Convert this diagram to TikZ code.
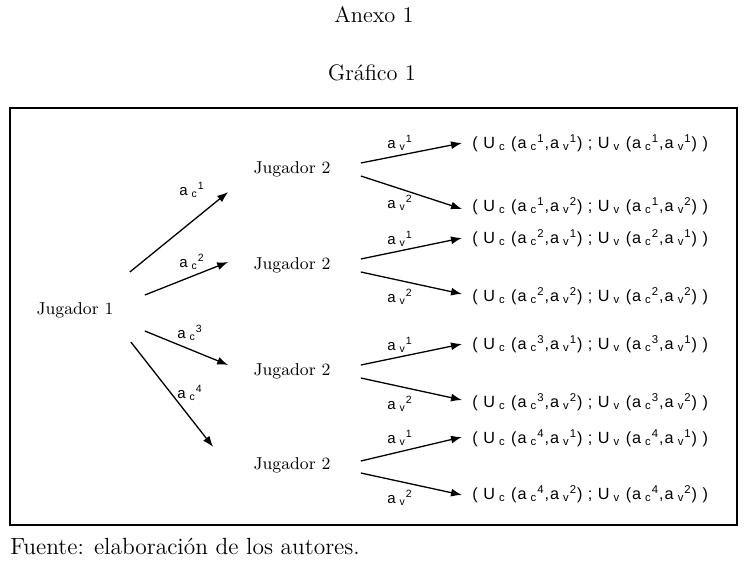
\documentclass[tikz,border=0pt]{standalone}
\usepackage{fontspec}
\newfontfamily\arialfont[LetterSpace=6]{Liberation Sans}
\usetikzlibrary{arrows.meta}

\newcommand{\act}[2]{a\hspace{0.25em}\textsubscript{#1}\textsuperscript{#2}}
\newcommand{\pago}[2]{( U\hspace{0.25em}\textsubscript{c} (\act{c}{#1},\act{v}{#2}) ; U\hspace{0.25em}\textsubscript{v} (\act{c}{#1},\act{v}{#2}) )}

\begin{document}
\begin{tikzpicture}[x=0.5pt,y=-0.5pt,
  flecha/.style={-{Latex[length=5.5pt,width=4pt]}, line width=0.65pt},
  jugador/.style={inner sep=0pt, font=\fontsize{8.6}{10}\selectfont},
  accion/.style={inner sep=0pt, font=\arialfont\fontsize{7.5}{8}\selectfont},
  pago/.style={inner sep=0pt, anchor=west, font=\arialfont\fontsize{8.1}{9}\selectfont},
  titulo/.style={inner sep=0pt, font=\fontsize{11.2}{13}\selectfont}]
\useasboundingbox (0,0) rectangle (747,561);

\node[titulo] (anexo) at (374,15) {Anexo 1};
\node[titulo] (grafico) at (372,73) {Gráfico 1};
\draw[line width=0.7pt] (10,108) rectangle (737,525);
\node[titulo, anchor=west, font=\fontsize{11.7}{13}\selectfont] (fuente) at (10,546) {Fuente: elaboración de los autores.};

% jugadores
\node[jugador] (j1) at (75,310) {Jugador 1};
\node[jugador] (j2a) at (292,169) {Jugador 2};
\node[jugador] (j2b) at (292,265) {Jugador 2};
\node[jugador] (j2c) at (292,371) {Jugador 2};
\node[jugador] (j2d) at (292,465) {Jugador 2};

% pagos
\node[pago] (o1) at (472,143) {\pago{1}{1}};
\node[pago] (o2) at (472,206) {\pago{1}{2}};
\node[pago] (o3) at (472,238) {\pago{2}{1}};
\node[pago] (o4) at (472,296) {\pago{2}{2}};
\node[pago] (o5) at (472,344) {\pago{3}{1}};
\node[pago] (o6) at (472,402) {\pago{3}{2}};
\node[pago] (o7) at (472,438) {\pago{4}{1}};
\node[pago] (o8) at (472,494) {\pago{4}{2}};

% acciones del jugador 1
\draw[flecha] ([xshift=8pt,yshift=19pt]j1.east) -- ([xshift=-12.5pt,yshift=-11.5pt]j2a.west);
\draw[flecha] ([xshift=15.5pt,yshift=7.5pt]j1.east) -- ([xshift=-12.5pt,yshift=1.5pt]j2b.west);
\draw[flecha] ([xshift=15.5pt,yshift=-10.5pt]j1.east) -- ([xshift=-12.5pt,yshift=3pt]j2c.west);
\draw[flecha] ([xshift=8.5pt,yshift=-16pt]j1.east) -- ([xshift=-20pt,yshift=9pt]j2d.west);
\node[accion] (lc1) at (192,190) {\act{c}{1}};
\node[accion] (lc2) at (192,262) {\act{c}{2}};
\node[accion] (lc3) at (190,333) {\act{c}{3}};
\node[accion] (lc4) at (190,393) {\act{c}{4}};

% acciones del jugador 2
\draw[flecha] ([xshift=15pt,yshift=3pt]j2a.east) -- ([xshift=-5pt]o1.west);
\draw[flecha] ([xshift=15pt,yshift=-3.5pt]j2a.east) -- ([xshift=-5pt,yshift=-1.5pt]o2.west);
\draw[flecha] ([xshift=15pt,yshift=3pt]j2b.east) -- ([xshift=-5pt]o3.west);
\draw[flecha] ([xshift=15pt,yshift=-3.5pt]j2b.east) -- ([xshift=-5pt,yshift=1pt]o4.west);
\draw[flecha] ([xshift=15pt,yshift=3pt]j2c.east) -- ([xshift=-5pt]o5.west);
\draw[flecha] ([xshift=15pt,yshift=-3.5pt]j2c.east) -- ([xshift=-5pt,yshift=1pt]o6.west);
\draw[flecha] ([xshift=15pt,yshift=2pt]j2d.east) -- ([xshift=-5pt,yshift=0.5pt]o7.west);
\draw[flecha] ([xshift=15pt,yshift=-4pt]j2d.east) -- ([xshift=-5pt,yshift=-0.5pt]o8.west);
\node[accion] (lv1) at (400,143) {\act{v}{1}};
\node[accion] (lv2) at (400,203) {\act{v}{2}};
\node[accion] (lv3) at (400,239) {\act{v}{1}};
\node[accion] (lv4) at (400,297) {\act{v}{2}};
\node[accion] (lv5) at (400,345) {\act{v}{1}};
\node[accion] (lv6) at (400,404) {\act{v}{2}};
\node[accion] (lv7) at (400,438) {\act{v}{1}};
\node[accion] (lv8) at (400,498) {\act{v}{2}};
\end{tikzpicture}
\end{document}
